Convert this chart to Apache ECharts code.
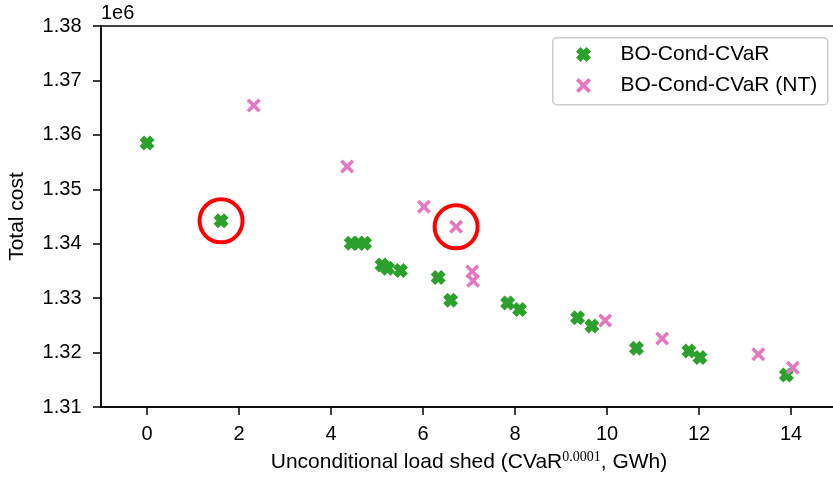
<!DOCTYPE html>
<html>
<head>
<meta charset="utf-8">
<script src="https://cdn.jsdelivr.net/npm/echarts@6/dist/echarts.min.js"></script>
<style>
  html, body { margin: 0; padding: 0; background: #fff; }
  #chart { width: 833px; height: 482px; }
</style>
</head>
<body>
<div id="chart"></div>
<script>
// Unconditional load shed (GWh) vs total cost for the two BO-Cond-CVaR variants
const condLoadShed = [0.00, 1.61, 4.44, 4.60, 4.73, 5.11, 5.23, 5.51, 6.33, 6.60, 7.84, 8.10, 9.36, 9.67, 10.64, 11.78, 12.02, 13.90];
const condCost     = [1358500, 1344200, 1340100, 1340100, 1340100, 1336100, 1335500, 1335100, 1333800, 1329600, 1329100, 1327900, 1326400, 1324900, 1320800, 1320300, 1319100, 1315900];

const ntLoadShed = [2.32, 4.35, 6.02, 6.72, 7.07, 7.09, 9.96, 11.20, 13.29, 14.04];
const ntCost     = [1365400, 1354200, 1346800, 1343100, 1334900, 1333200, 1325900, 1322600, 1319700, 1317200];

// highlighted runs: [series, index]
const highlighted = [['cond', 1], ['nt', 3]];

const xTicks = [0, 2, 4, 6, 8, 10, 12, 14];
const yTicks = [1310000, 1320000, 1330000, 1340000, 1350000, 1360000, 1370000, 1380000];

const seriesNames = ['BO-Cond-CVaR', 'BO-Cond-CVaR (NT)'];

const FONT = '"Liberation Sans", Arial, Helvetica, sans-serif';
const GREEN = '#2ca02c';
const PINK = '#e377c2';

// filled "X" marker and thin "x" marker
const FILLED_X = 'path://M0 30 L30 0 L50 20 L70 0 L100 30 L80 50 L100 70 L70 100 L50 80 L30 100 L0 70 L20 50 Z';
const THIN_X = 'path://M0 18 L18 0 L50 32 L82 0 L100 18 L68 50 L100 82 L82 100 L50 68 L18 100 L0 82 L32 50 Z';

const zip = (xs, ys) => xs.map((x, i) => [x, ys[i]]);
const condData = zip(condLoadShed, condCost);
const ntData = zip(ntLoadShed, ntCost);
const ringData = highlighted.map(([s, i]) => (s === 'cond' ? condData[i] : ntData[i]));

const chart = echarts.init(document.getElementById('chart'), null, { renderer: 'canvas' });

chart.setOption({
  animation: false,
  backgroundColor: '#fff',
  textStyle: { fontFamily: FONT },
  grid: {
    left: 101, top: 26, width: 736, height: 381,
    outerBoundsMode: 'none', containLabel: false,
    show: true, borderColor: '#000', borderWidth: 1.5, backgroundColor: 'transparent'
  },
  xAxis: {
    type: 'value', min: -1, max: 15,
    name: 'Unconditional load shed (CVaR{sup|0.0001}, GWh)',
    nameLocation: 'middle', nameGap: 43,
    nameTextStyle: {
      fontSize: 21, color: '#000', fontFamily: FONT,
      rich: {
        sup: { fontSize: 14, fontFamily: '"Liberation Serif", "Times New Roman", serif', color: '#000', padding: [0, 0, 10, 0] }
      }
    },
    splitLine: { show: false },
    axisLine: { show: true, onZero: false, lineStyle: { color: '#000', width: 1.5 } },
    axisTick: { show: true, length: 8, lineStyle: { color: '#000', width: 1.5 }, customValues: xTicks },
    axisLabel: { color: '#000', fontSize: 20, margin: 17, fontFamily: FONT, customValues: xTicks }
  },
  yAxis: {
    type: 'value', min: yTicks[0], max: yTicks[yTicks.length - 1], interval: 10000,
    name: 'Total cost',
    nameLocation: 'middle', nameGap: 73, nameRotate: 90,
    nameTextStyle: { fontSize: 21, color: '#000', fontFamily: FONT },
    splitLine: { show: false },
    axisLine: { show: true, onZero: false, lineStyle: { color: '#000', width: 1.5 } },
    axisTick: { show: true, length: 8, lineStyle: { color: '#000', width: 1.5 } },
    axisLabel: {
      color: '#000', fontSize: 20, margin: 19.5, fontFamily: FONT,
      formatter: v => (v / 1e6).toFixed(2)
    }
  },
  legend: {
    data: seriesNames,
    orient: 'vertical',
    left: 576, top: 44,
    itemWidth: 56, itemHeight: 15, itemGap: 10,
    padding: 0,
    textStyle: { fontSize: 21, color: '#000', fontFamily: FONT, padding: [0, 0, 0, 4] }
  },
  graphic: [
    {
      type: 'rect', left: 552, top: 37, z: -1,
      shape: { width: 275, height: 67, r: 4 },
      style: { fill: 'rgba(255,255,255,0.8)', stroke: '#cccccc', lineWidth: 1.5 }
    },
    {
      type: 'text', left: 101, top: 3,
      style: { text: '1e6', fontSize: 20, fill: '#000', fontFamily: FONT }
    }
  ],
  series: [
    {
      name: seriesNames[0], type: 'scatter', data: condData,
      symbol: FILLED_X, symbolSize: 15, symbolKeepAspect: true,
      itemStyle: { color: GREEN, opacity: 1 }, z: 3
    },
    {
      name: seriesNames[1], type: 'scatter', data: ntData,
      symbol: THIN_X, symbolSize: 14, symbolKeepAspect: true,
      itemStyle: { color: PINK, opacity: 1 }, z: 4
    },
    {
      name: 'highlight', type: 'scatter', data: ringData,
      symbol: 'circle', symbolSize: 43, silent: true,
      itemStyle: { color: 'rgba(0,0,0,0)', borderColor: '#ff0000', borderWidth: 4, opacity: 1 }, z: 5
    }
  ]
});
</script>
</body>
</html>
